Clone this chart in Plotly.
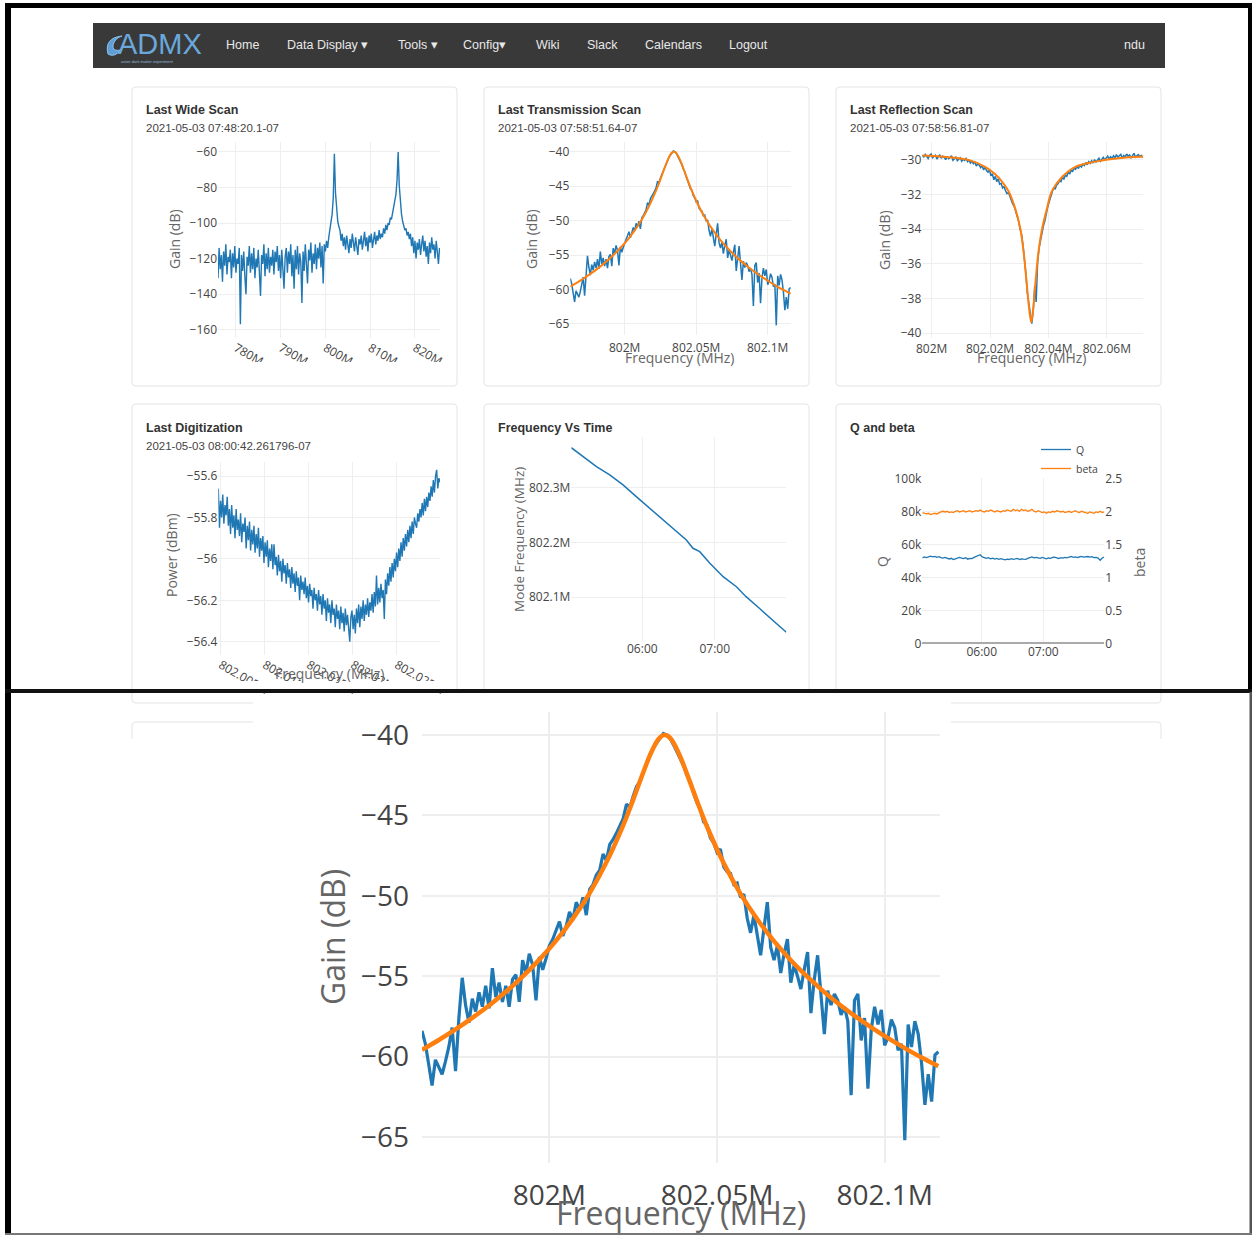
import plotly.graph_objects as go

W, H = 1252, 1235


def px(x):
    return x / W


def py(y):
    return 1 - y / H


def xdom(a, b):
    return [a / W, b / W]


def ydom(top, bottom):
    return [1 - bottom / H, 1 - top / H]


# ---------------- data ----------------
# Last Wide Scan (Hz grid start/step, gain in dB)
wide_start_hz = 776.0e6
wide_step_hz = 0.25e6
wide_gain = [
    -131, -114, -126, -118, -133, -116, -124, -112, -129, -119,
    -122, -115, -131, -117, -125, -113, -128, -120, -123, -114,
    -157, -118, -127, -116, -130, -140, -119, -124, -113, -128,
    -117, -126, -114, -131, -120, -125, -115, -129, -141, -118,
    -123, -112, -130, -117, -126, -114, -128, -119, -124, -115,
    -129, -116, -122, -113, -127, -118, -131, -115, -125, -137,
    -119, -114, -128, -116, -123, -112, -130, -118, -137, -115,
    -126, -113, -129, -117, -122, -145, -116, -127, -112, -124,
    -134, -115, -121, -111, -128, -117, -123, -112, -126, -114,
    -120, -111, -125, -113, -134, -112,
    -116, -110, -114, -108, -104, -100, -95, -86,
    -61,
    -83, -94, -99, -102, -104,
    -110, -106, -113, -108, -115, -107, -112, -117, -109, -114,
    -106, -111, -116, -108, -113, -118, -109, -112, -107, -115,
    -110, -105, -113, -108, -116, -107, -111, -106, -114, -109,
    -105, -112, -107, -110, -104, -109, -106,
    -108, -103, -106, -101, -104, -100, -101, -97, -98, -95, -92, -89, -84, -76,
    -60,
    -79, -89, -95, -99, -101, -104, -103, -107, -105, -109, -106,
    -113, -108, -117, -110, -120, -111, -115, -109, -118, -112,
    -107, -116, -110, -119, -113, -123, -111, -117, -108, -115,
    -112, -120, -110, -116, -123, -114,
]

# Last Transmission Scan
trans_start_hz = 801.962e6
trans_step_hz = 1000.0
trans_gain = [
    -58.4, -59.2, -60.5, -61.8, -60.2, -60.6, -61.1, -60.3, -59.4, -58.2,
    -60.9, -57.6, -55.1, -56.8, -57.9, -56.4, -57.2, -56.0, -56.9, -55.6,
    -57.0, -54.5, -56.3, -55.4, -56.6, -55.6, -56.9, -55.2, -54.9, -56.6,
    -54.0, -54.8, -53.6, -54.3, -56.5, -53.8, -54.6, -53.9, -53.1, -52.7,
    -52.2, -51.6, -52.5, -51.9, -51.0, -51.5, -50.4, -50.9, -50.1, -51.2,
    -49.6, -49.3, -48.7, -48.4, -47.4, -47.8, -46.8, -46.5, -46.1, -45.7,
    -45.2, -44.3, -44.5, -43.8, -43.2, -42.9, -42.3, -41.8, -41.2, -40.8,
    -40.5, -40.2, -39.9, -40.0, -40.2, -40.6, -41.0, -41.4, -41.9, -42.5,
    -42.9, -43.6, -44.2, -44.6, -45.4, -45.6, -46.4, -46.7, -47.3, -47.1,
    -48.2, -48.5, -48.6, -49.3, -49.2, -50.1, -49.9, -51.4, -52.3, -51.2,
    -52.4, -53.7, -52.0, -50.4, -53.2, -54.0, -53.1, -54.8, -53.6, -52.7,
    -55.4, -54.3, -55.0, -55.8, -54.6, -53.5, -57.3, -55.2, -53.7, -56.2,
    -58.6, -55.9, -56.8, -56.1, -56.5, -57.4, -56.9, -57.8, -62.4, -56.5,
    -56.1, -59.0, -57.6, -62.0, -58.3, -56.9, -58.0, -57.1, -59.3, -58.8,
    -57.7, -58.2, -59.6, -59.2, -65.2, -58.0, -59.4, -57.8, -58.6, -60.4,
    -63.0, -61.1, -62.8, -59.9, -59.7,
]
trans_fit_mhz = [
    801.962, 801.967, 801.972, 801.977, 801.982, 801.987, 801.992, 801.997,
    802.002, 802.007, 802.012, 802.017, 802.022, 802.025, 802.028, 802.030,
    802.032, 802.033, 802.034, 802.035, 802.036, 802.037, 802.039, 802.041,
    802.044, 802.047, 802.052, 802.057, 802.062, 802.067, 802.072, 802.077,
    802.082, 802.087, 802.092, 802.097, 802.102, 802.107, 802.112, 802.116,
]
trans_fit_gain = [
    -59.58, -58.97, -58.31, -57.59, -56.82, -55.97, -55.02, -53.97,
    -52.79, -51.42, -49.83, -47.92, -45.62, -44.02, -42.32, -41.26,
    -40.42, -40.15, -40.01, -40.02, -40.18, -40.47, -41.33, -42.40,
    -44.09, -45.69, -47.98, -49.88, -51.46, -52.82, -54.01, -55.05,
    -55.99, -56.84, -57.61, -58.32, -58.98, -59.60, -60.17, -60.60,
]

# Last Reflection Scan
refl_start_hz = 801.9968e6
refl_step_hz = 500.0
refl_gain = [
    -29.72, -29.85, -29.68, -29.79, -29.92, -29.74, -29.66, -29.88, -29.81, -29.73,
    -29.95, -29.84, -29.70, -29.91, -29.78, -29.86, -29.99, -29.80, -29.93, -29.87,
    -29.76, -30.02, -29.90, -29.84, -30.05, -29.95, -29.88, -30.08, -29.97, -30.03,
    -29.92, -30.10, -30.01, -30.18, -30.07, -30.22, -30.12, -30.35, -30.24, -30.30,
    -30.45, -30.33, -30.58, -30.40, -30.62, -30.71, -30.55, -30.92, -30.80, -31.15,
    -30.95, -31.25, -31.10, -31.40, -31.35, -31.62, -31.55, -31.78, -31.95, -31.88,
    -32.15, -32.30, -32.55, -32.70, -32.95, -33.30, -33.55, -34.00, -34.30, -34.95,
    -35.70, -36.60, -37.70, -38.40, -39.10, -39.45, -38.70, -37.30, -38.20, -35.90,
    -35.10, -34.60, -34.30, -33.80, -33.50, -33.00, -32.70, -32.40, -32.05, -31.85,
    -31.60, -31.70, -31.45, -31.38, -31.20, -31.25, -31.00, -31.10, -30.88, -30.95,
    -30.70, -30.82, -30.60, -30.66, -30.48, -30.55, -30.38, -30.50, -30.30, -30.42,
    -30.25, -30.33, -30.15, -30.28, -30.10, -30.20, -30.05, -30.18, -29.98, -30.12,
    -30.02, -29.90, -30.08, -29.95, -29.85, -30.00, -29.88, -29.78, -29.95, -29.82,
    -29.92, -29.76, -29.88, -29.70, -29.85, -29.78, -29.68, -29.90, -29.75, -29.83,
    -29.66, -29.80, -29.72, -29.88, -29.70, -29.62, -29.84, -29.76, -29.69, -29.82,
    -29.74, -29.86,
]
refl_fit_mhz = [
    801.9968, 802.0041, 802.0126, 802.0183, 802.0216, 802.0241, 802.0263, 802.0286,
    802.0303, 802.0315, 802.0326, 802.0335, 802.0341, 802.0347, 802.0355, 802.0366,
    802.0378, 802.0395, 802.0412, 802.0446, 802.0492, 802.0561, 802.0641, 802.0725,
]
refl_fit_gain = [
    -29.75, -29.82, -30.00, -30.40, -30.80, -31.25, -31.80, -32.80,
    -33.90, -35.30, -37.20, -38.75, -39.37, -38.75, -37.20, -35.30,
    -34.00, -32.80, -31.80, -31.00, -30.40, -30.10, -29.90, -29.80,
]

# Last Digitization
dig_start_hz = 802004730.0
dig_step_hz = 126.6
dig_power = [
    -55.66, -55.85, -55.72, -55.80, -55.69, -55.83, -55.74, -55.79, -55.70, -55.84,
    -55.76, -55.88, -55.74, -55.85, -55.79, -55.90, -55.76, -55.86, -55.81, -55.89,
    -55.78, -55.92, -55.83, -55.87, -55.80, -55.95, -55.84, -55.91, -55.82, -55.96,
    -55.86, -55.93, -55.84, -55.97, -55.88, -55.95, -55.85, -55.99, -55.90, -55.96,
    -55.89, -56.02, -55.92, -55.99, -55.91, -56.04, -55.95, -56.01, -55.93, -56.05,
    -55.93, -56.03, -55.99, -56.08, -55.98, -56.06, -56.01, -56.11, -56.00, -56.07,
    -56.03, -56.12, -56.02, -56.09, -56.05, -56.14, -56.04, -56.12, -56.07, -56.16,
    -56.06, -56.13, -56.09, -56.20, -56.08, -56.15, -56.11, -56.17, -56.09, -56.19,
    -56.13, -56.21, -56.12, -56.18, -56.15, -56.24, -56.14, -56.20, -56.17, -56.25,
    -56.15, -56.22, -56.18, -56.27, -56.17, -56.24, -56.20, -56.30, -56.19, -56.26,
    -56.22, -56.31, -56.20, -56.27, -56.24, -56.33, -56.22, -56.29, -56.25, -56.34,
    -56.23, -56.31, -56.26, -56.35, -56.24, -56.32, -56.27, -56.36, -56.40, -56.28,
    -56.25, -56.34, -56.27, -56.36, -56.24, -56.31, -56.22, -56.33, -56.23, -56.29,
    -56.20, -56.30, -56.22, -56.27, -56.19, -56.28, -56.21, -56.25, -56.17, -56.26,
    -56.16, -56.23, -56.08, -56.22, -56.14, -56.21, -56.12, -56.19, -56.15, -56.29,
    -56.10, -56.17, -56.07, -56.13, -56.04, -56.11, -56.02, -56.09, -56.00, -56.06,
    -55.97, -56.04, -55.95, -56.01, -55.92, -55.99, -55.90, -55.96, -55.88, -55.94,
    -55.86, -55.92, -55.84, -55.90, -55.82, -55.88, -55.80, -55.83, -55.85, -55.78,
    -55.82, -55.76, -55.80, -55.73, -55.79, -55.71, -55.77, -55.70, -55.75, -55.68,
    -55.72, -55.65, -55.70, -55.62, -55.68, -55.60, -55.57, -55.66, -55.61, -55.63,
]
dig_tick_hz = [802005000, 802010000, 802015000, 802020000, 802025000]
dig_tick_text = ["802.005M", "802.01M", "802.015M", "802.02M", "802.025M"]

# Frequency Vs Time
fvt_time = [
    "2021-05-03 05:01:10", "2021-05-03 05:11:00", "2021-05-03 05:22:00",
    "2021-05-03 05:33:00", "2021-05-03 05:44:00", "2021-05-03 05:55:00",
    "2021-05-03 06:06:00", "2021-05-03 06:17:00", "2021-05-03 06:28:00",
    "2021-05-03 06:36:30", "2021-05-03 06:42:00", "2021-05-03 06:47:36",
    "2021-05-03 06:56:00", "2021-05-03 07:07:00", "2021-05-03 07:18:00",
    "2021-05-03 07:26:00", "2021-05-03 07:37:00", "2021-05-03 07:48:00",
    "2021-05-03 07:59:20",
]
fvt_freq_mhz = [
    802.373, 802.3566, 802.3383, 802.3232, 802.305, 802.2836, 802.2624,
    802.2411, 802.2197, 802.2046, 802.1894, 802.1832, 802.162, 802.1376,
    802.1193, 802.1011, 802.0799, 802.0586, 802.0361,
]

# Q and beta
qb_start = "2021-05-03 05:02:09"
qb_step_ms = 120850
q_values = [
    51800, 52300, 51900, 52600, 52800, 52400, 52700, 52100, 52500, 51900,
    51600, 52000, 51300, 51100, 51500, 50800, 51200, 51700, 52000, 51600,
    51400, 51900, 51000, 51500, 51300, 52100, 52600, 52900, 53700, 52400,
    51800, 51500, 51900, 51200, 51600, 51000, 51400, 50900, 51300, 51100,
    50600, 51000, 50800, 51300, 50900, 51100, 51400, 50800, 51200, 51000,
    50900, 51500, 51900, 52400, 51800, 52100, 51800, 51500, 52000, 51600,
    51200, 51700, 51500, 52000, 52200, 51800, 51400, 51900, 51600, 52100,
    51800, 52300, 52600, 52100, 52400, 52000, 52300, 52700, 52200, 52500,
    52600, 52200, 52500, 51900, 52100, 51600, 50300, 51700, 52300,
]
beta_values = [
    1.98, 1.97, 1.96, 1.97, 1.95, 1.96, 1.97, 1.96, 1.98, 1.99,
    2.00, 1.99, 2.00, 1.98, 1.99, 1.98, 2.00, 2.01, 1.99, 2.00,
    2.01, 1.99, 2.00, 2.01, 1.99, 2.00, 2.01, 2.00, 2.02, 2.00,
    1.99, 2.01, 2.00, 2.02, 2.00, 1.99, 2.01, 2.00, 1.99, 2.01,
    2.00, 2.02, 2.01, 2.00, 2.03, 2.01, 2.02, 2.00, 2.03, 2.01,
    2.02, 2.00, 2.01, 2.03, 2.00, 1.99, 2.01, 2.00, 1.98, 1.99,
    1.97, 1.99, 1.98, 2.00, 1.99, 2.01, 2.00, 1.99, 2.00, 1.98,
    1.99, 2.00, 1.98, 1.99, 2.01, 1.99, 1.98, 2.00, 1.99, 1.98,
    1.97, 1.99, 1.98, 1.97, 1.99, 1.98, 2.00, 1.98, 1.99,
]

nav_items = ["Home", "Data Display \u25be", "Tools \u25be", "Config\u25be", "Wiki",
             "Slack", "Calendars", "Logout"]
nav_x = [226, 287, 398, 463, 536, 587, 645, 729]

BLUE = "#1f77b4"
ORANGE = "#ff7f0e"

# ---------------- traces ----------------
fig = go.Figure()

fig.add_trace(go.Scatter(x0=wide_start_hz, dx=wide_step_hz, y=wide_gain, mode="lines",
                         line=dict(color=BLUE, width=1.4), xaxis="x", yaxis="y", showlegend=False))

fig.add_trace(go.Scatter(x0=trans_start_hz, dx=trans_step_hz, y=trans_gain, mode="lines",
                         line=dict(color=BLUE, width=1.5), xaxis="x2", yaxis="y2", showlegend=False))
fig.add_trace(go.Scatter(x=[f * 1e6 for f in trans_fit_mhz], y=trans_fit_gain, mode="lines",
                         line=dict(color=ORANGE, width=2, shape="spline"), xaxis="x2", yaxis="y2",
                         showlegend=False))

fig.add_trace(go.Scatter(x0=refl_start_hz, dx=refl_step_hz, y=refl_gain, mode="lines",
                         line=dict(color=BLUE, width=1.5), xaxis="x3", yaxis="y3", showlegend=False))
fig.add_trace(go.Scatter(x=[f * 1e6 for f in refl_fit_mhz], y=refl_fit_gain, mode="lines",
                         line=dict(color=ORANGE, width=2, shape="spline"), xaxis="x3", yaxis="y3",
                         showlegend=False))

fig.add_trace(go.Scatter(x0=dig_start_hz, dx=dig_step_hz, y=dig_power, mode="lines",
                         line=dict(color=BLUE, width=1.4), xaxis="x4", yaxis="y4", showlegend=False))

fig.add_trace(go.Scatter(x=fvt_time, y=[f * 1e6 for f in fvt_freq_mhz], mode="lines",
                         line=dict(color=BLUE, width=1.5), xaxis="x5", yaxis="y5", showlegend=False))

fig.add_trace(go.Scatter(x0=qb_start, dx=qb_step_ms, y=q_values, mode="lines", name="Q",
                         line=dict(color=BLUE, width=1.3), xaxis="x6", yaxis="y6"))
fig.add_trace(go.Scatter(x0=qb_start, dx=qb_step_ms, y=beta_values, mode="lines", name="beta",
                         line=dict(color=ORANGE, width=1.3), xaxis="x6", yaxis="y8"))

fig.add_trace(go.Scatter(x0=trans_start_hz, dx=trans_step_hz, y=trans_gain, mode="lines",
                         line=dict(color=BLUE, width=3.2), xaxis="x7", yaxis="y7", showlegend=False))
fig.add_trace(go.Scatter(x=[f * 1e6 for f in trans_fit_mhz], y=trans_fit_gain, mode="lines",
                         line=dict(color=ORANGE, width=4.5, shape="spline"), xaxis="x7", yaxis="y7",
                         showlegend=False))

# ---------------- axes ----------------
TICK = dict(size=12, color="#444", family="Open Sans")
BIG = dict(size=28, color="#444", family="Open Sans")


def ax(**kw):
    base = dict(showgrid=True, gridcolor="#eee", gridwidth=1, zeroline=False, showline=False,
                ticks="", tickfont=TICK)
    base.update(kw)
    return base


layout = dict(
    width=W, height=H, margin=dict(l=0, r=0, t=0, b=0), template="none",
    paper_bgcolor="white", plot_bgcolor="rgba(0,0,0,0)",
    font=dict(family="Open Sans", color="#444"),
    xaxis=ax(domain=xdom(218, 440), range=[776.0e6, 825.6e6], dtick=10e6, tick0=0, tickangle=30,
             anchor="y"),
    yaxis=ax(domain=ydom(142, 338), range=[-164.7, -54.4], dtick=20, anchor="x"),
    xaxis2=ax(domain=xdom(570.3, 791.3), range=[801.962e6, 802.1165e6], dtick=50000, tick0=0,
              ticklabelstandoff=4, anchor="y2"),
    yaxis2=ax(domain=ydom(141.7, 335), range=[-66.6, -38.55], dtick=5, anchor="x2"),
    xaxis3=ax(domain=xdom(922.3, 1143.3), range=[801.9968e6, 802.0725e6], dtick=20000, tick0=0,
              ticklabelstandoff=2, anchor="y3"),
    yaxis3=ax(domain=ydom(141.7, 338.3), range=[-40.3, -28.95], dtick=2, anchor="x3"),
    xaxis4=ax(domain=xdom(218.3, 440), range=[802004730, 802029923], tickmode="array",
              tickvals=dig_tick_hz, ticktext=dig_tick_text, tickangle=30, anchor="y4"),
    yaxis4=ax(domain=ydom(461.7, 655), range=[-56.464, -55.531], dtick=0.2, anchor="x4"),
    xaxis5=ax(domain=xdom(571.3, 786.3), type="date",
              range=["2021-05-03 05:01:09", "2021-05-03 07:59:20"],
              dtick=3600000, tick0="2021-05-03 00:00", tickformat="%H:%M", anchor="y5"),
    yaxis5=ax(domain=ydom(437, 640), range=[802.022e6, 802.3925e6], dtick=100000, tick0=0,
              anchor="x5"),
    xaxis6=ax(domain=xdom(922.3, 1104.3), type="date",
              range=["2021-05-03 05:02:09", "2021-05-03 07:59:24"],
              dtick=3600000, tick0="2021-05-03 00:00", tickformat="%H:%M", anchor="y6"),
    yaxis6=ax(domain=ydom(478.3, 643.3), range=[0, 100000], dtick=20000, anchor="x6",
              zeroline=True, zerolinecolor="#aaa", zerolinewidth=2),
    yaxis8=ax(overlaying="y6", side="right", range=[0, 2.5], dtick=0.5, showgrid=False,
              anchor="x6"),
    xaxis7=ax(domain=xdom(422, 940), range=[801.962e6, 802.1165e6], dtick=50000, tick0=0,
              tickfont=BIG, gridwidth=2, ticklabelstandoff=13, anchor="y7"),
    yaxis7=ax(domain=ydom(711.7, 1162.7), range=[-66.6, -38.55], dtick=5,
              tickfont=BIG, gridwidth=2, ticklabelstandoff=12, anchor="x7"),
    legend=dict(x=px(1036), y=py(435), xanchor="left", yanchor="top", bgcolor="rgba(0,0,0,0)",
                font=dict(size=10.5, color="#444", family="Open Sans"), tracegroupgap=0,
                itemwidth=30),
    showlegend=True,
)

# ---------------- shapes ----------------


def P(x, y):
    return f"{px(x):.6f},{py(y):.6f}"


def rrect(x0, y0, x1, y1, r=4):
    return (f"M {P(x0 + r, y0)} L {P(x1 - r, y0)} Q {P(x1, y0)} {P(x1, y0 + r)} "
            f"L {P(x1, y1 - r)} Q {P(x1, y1)} {P(x1 - r, y1)} L {P(x0 + r, y1)} "
            f"Q {P(x0, y1)} {P(x0, y1 - r)} L {P(x0, y0 + r)} Q {P(x0, y0)} {P(x0 + r, y0)} Z")


def open_top(x0, y0, x1, y1, r=4):
    return (f"M {P(x0, y1)} L {P(x0, y0 + r)} Q {P(x0, y0)} {P(x0 + r, y0)} "
            f"L {P(x1 - r, y0)} Q {P(x1, y0)} {P(x1, y0 + r)} L {P(x1, y1)}")


def rect(x0, y0, x1, y1, fill, layer="below"):
    return dict(type="rect", xref="paper", yref="paper", x0=px(x0), x1=px(x1), y0=py(y1),
                y1=py(y0), fillcolor=fill, line=dict(width=0), layer=layer)


CARD = "#e3e3e3"
shapes = []
shapes.append(rect(93, 23, 1165, 68, "#393939"))
for cx in (132, 484, 836):
    shapes.append(dict(type="path", xref="paper", yref="paper", path=rrect(cx, 87, cx + 325, 386),
                       line=dict(color=CARD, width=1), layer="below"))
    shapes.append(dict(type="path", xref="paper", yref="paper", path=rrect(cx, 404, cx + 325, 703),
                       line=dict(color=CARD, width=1), layer="below"))
    shapes.append(dict(type="path", xref="paper", yref="paper", path=open_top(cx, 722, cx + 325, 739),
                       line=dict(color=CARD, width=1), layer="below"))
# white area of the enlarged view
shapes.append(rect(253, 693, 951, 1233, "white"))
# logo swirl
shapes.append(dict(type="path", xref="paper", yref="paper",
                   path=f"M {P(122, 36)} Q {P(104, 38)} {P(108, 54)} Q {P(114, 58)} {P(121, 50)} "
                        f"Q {P(112, 52)} {P(113, 45)} Q {P(115, 38)} {P(122, 36)} Z",
                   fillcolor="#5f9fd6", line=dict(color="#8cc3f0", width=1), layer="below"))
# clipping masks for rotated tick labels
shapes.append(rect(134, 362, 455, 383, "white", layer="above"))
shapes.append(rect(134, 681, 455, 689, "white", layer="above"))
# black frame and divider
shapes.append(rect(5, 3, 1252, 8, "#000", layer="above"))
shapes.append(rect(5, 3, 11, 1235, "#000", layer="above"))
shapes.append(rect(1248, 3, 1252, 692, "#000", layer="above"))
shapes.append(rect(5, 689, 1252, 693, "#111", layer="above"))
shapes.append(rect(1249.5, 692, 1252, 1235, "#555", layer="above"))
shapes.append(rect(5, 1233, 1252, 1235, "#777", layer="above"))
layout["shapes"] = shapes

# ---------------- annotations ----------------


def text(x, y, s, size=12, color="#333", bold=False, anchor="left", family="Liberation Sans",
         angle=0):
    return dict(x=px(x), y=py(y), xref="paper", yref="paper",
                text=(f"<b>{s}</b>" if bold else s), showarrow=False, xanchor=anchor,
                yanchor="middle", font=dict(size=size, color=color, family=family),
                textangle=angle)


ann = []
ann.append(text(116, 44, "ADMX", size=29, color="#6aa8dc", family="Liberation Sans"))
ann.append(text(119, 61, "axion dark matter experiment", size=4, color="#8fb8d8"))
for s, x in zip(nav_items, nav_x):
    ann.append(text(x - 2, 45, s, size=12.5, color="#e8e8e8"))
ann.append(text(1147, 45, "ndu", size=12.5, color="#e8e8e8", anchor="right"))

cards = [
    (146, 110, "Last Wide Scan", "2021-05-03 07:48:20.1-07"),
    (498, 110, "Last Transmission Scan", "2021-05-03 07:58:51.64-07"),
    (850, 110, "Last Reflection Scan", "2021-05-03 07:58:56.81-07"),
    (146, 428, "Last Digitization", "2021-05-03 08:00:42.261796-07"),
    (498, 428, "Frequency Vs Time", None),
    (850, 428, "Q and beta", None),
]
for x, y, t, sub in cards:
    ann.append(text(x - 2, y, t, size=12.5, color="#333", bold=True))
    if sub:
        ann.append(text(x - 2, y + 18, sub, size=11.5, color="#444"))

TITLE = "#666"
ann.append(text(175, 239, "Gain (dB)", size=14, color=TITLE, anchor="center", family="Open Sans",
                angle=-90))
ann.append(text(532, 239, "Gain (dB)", size=14, color=TITLE, anchor="center", family="Open Sans",
                angle=-90))
ann.append(text(884, 240, "Gain (dB)", size=14, color=TITLE, anchor="center", family="Open Sans",
                angle=-90))
ann.append(text(680, 357, "Frequency (MHz)", size=14, color=TITLE, anchor="center",
                family="Open Sans"))
ann.append(text(1032, 357, "Frequency (MHz)", size=14, color=TITLE, anchor="center",
                family="Open Sans"))
ann.append(text(171, 555, "Power (dBm)", size=14, color=TITLE, anchor="center", family="Open Sans",
                angle=-90))
ann.append(text(330, 673, "Frequency (MHz)", size=14, color=TITLE, anchor="center",
                family="Open Sans"))
ann.append(text(519, 540, "Mode Frequency (MHz)", size=13.5, color=TITLE, anchor="center",
                family="Open Sans", angle=-90))
ann.append(text(882, 562, "Q", size=14, color=TITLE, anchor="center", family="Open Sans",
                angle=-90))
ann.append(text(1139, 563, "beta", size=14, color=TITLE, anchor="center", family="Open Sans",
                angle=-90))
ann.append(text(332, 937, "Gain (dB)", size=32, color=TITLE, anchor="center", family="Open Sans",
                angle=-90))
ann.append(text(681, 1212, "Frequency (MHz)", size=32, color=TITLE, anchor="center",
                family="Open Sans"))
layout["annotations"] = ann

fig.update_layout(**layout)
fig.write_html("out.html")
